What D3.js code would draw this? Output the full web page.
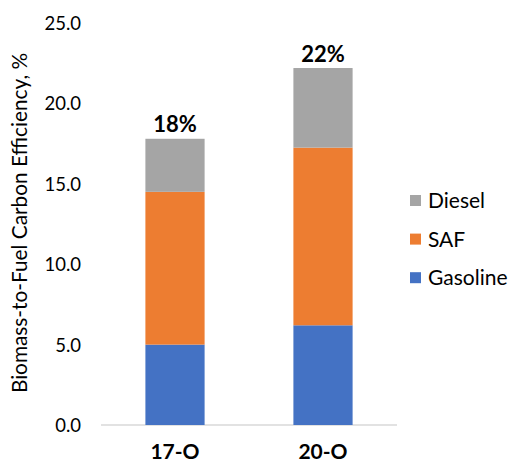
<!DOCTYPE html>
<html>
<head>
<meta charset="utf-8">
<script src="https://cdn.jsdelivr.net/npm/d3@7"></script>
<style>
  body { margin: 0; background: #fff; }
  svg text { font-family: Lato, "Open Sans", sans-serif; fill: #000; }
</style>
</head>
<body>
<div id="chart"></div>
<script>
// values
const categories = ["17-O", "20-O"];
const seriesNames = ["Gasoline", "SAF", "Diesel"];
const gasoline = [5.0, 6.2];
const saf = [9.5, 11.05];
const diesel = [3.3, 4.95];
const totalLabels = ["18%", "22%"];
const yTicks = [0, 5, 10, 15, 20, 25];
const colors = ["#4472C4", "#ED7D31", "#A5A5A5"];

const W = 509, H = 462;
const margin = {top: 23, right: 112, bottom: 37, left: 101};

const svg = d3.select("#chart").append("svg")
  .attr("width", W).attr("height", H);

const x = d3.scaleBand()
  .domain(categories)
  .range([margin.left, W - margin.right])
  .paddingInner(0.6)
  .paddingOuter(0.3);

const y = d3.scaleLinear()
  .domain([0, 25])
  .range([H - margin.bottom, margin.top]);

const rows = categories.map((c, i) => ({
  cat: c, Gasoline: gasoline[i], SAF: saf[i], Diesel: diesel[i]
}));
const stacked = d3.stack().keys(seriesNames)(rows);

// axis line
svg.append("line")
  .attr("x1", margin.left).attr("x2", W - margin.right)
  .attr("y1", y(0)).attr("y2", y(0))
  .attr("stroke", "#D9D9D9").attr("stroke-width", 1.3);

// y tick labels
const yAxis = svg.append("g")
  .attr("transform", `translate(${margin.left - 20},0)`)
  .call(d3.axisLeft(y).tickValues(yTicks).tickFormat(d3.format(".1f")).tickSize(0).tickPadding(0));
yAxis.select(".domain").remove();
yAxis.selectAll("text").style("font-size", "18.5px").attr("fill", "#000").attr("dy", "0.35em");

// x labels
const xAxis = svg.append("g")
  .attr("transform", `translate(0,${y(0)})`)
  .call(d3.axisBottom(x).tickSize(0).tickPadding(0));
xAxis.select(".domain").remove();
xAxis.selectAll("text").attr("y", 33.5).attr("dy", null)
  .style("font-size", "21px").style("font-weight", "bold").attr("fill", "#000");

// bars
svg.append("g").selectAll("g")
  .data(stacked).join("g")
  .attr("fill", (d, i) => colors[i])
  .selectAll("rect")
  .data(d => d).join("rect")
  .attr("x", d => x(d.data.cat))
  .attr("width", x.bandwidth())
  .attr("y", d => y(d[1]))
  .attr("height", d => y(d[0]) - y(d[1]));

// total labels
const topLayer = stacked[stacked.length - 1];
svg.append("g").selectAll("text")
  .data(topLayer).join("text")
  .attr("x", d => x(d.data.cat) + x.bandwidth() / 2)
  .attr("y", d => y(d[1]) - 6.5)
  .attr("text-anchor", "middle")
  .style("font-size", "22px").style("font-weight", "bold")
  .text((d, i) => totalLabels[i]);

// y axis title
svg.append("text")
  .attr("transform", `translate(27,223) rotate(-90)`)
  .attr("text-anchor", "middle")
  .style("font-size", "20.8px")
  .text("Biomass-to-Fuel Carbon Efficiency, %");

// legend
const legendOrder = ["Diesel", "SAF", "Gasoline"];
const leg = svg.append("g").selectAll("g")
  .data(legendOrder).join("g")
  .attr("transform", (d, i) => `translate(410,${200.5 + i * 38.6})`);
leg.append("rect")
  .attr("x", 0).attr("y", -5.5).attr("width", 11).attr("height", 11)
  .attr("fill", d => colors[seriesNames.indexOf(d)]);
leg.append("text")
  .attr("x", 18).attr("dy", "0.36em")
  .style("font-size", "21px")
  .text(d => d);
</script>
</body>
</html>
